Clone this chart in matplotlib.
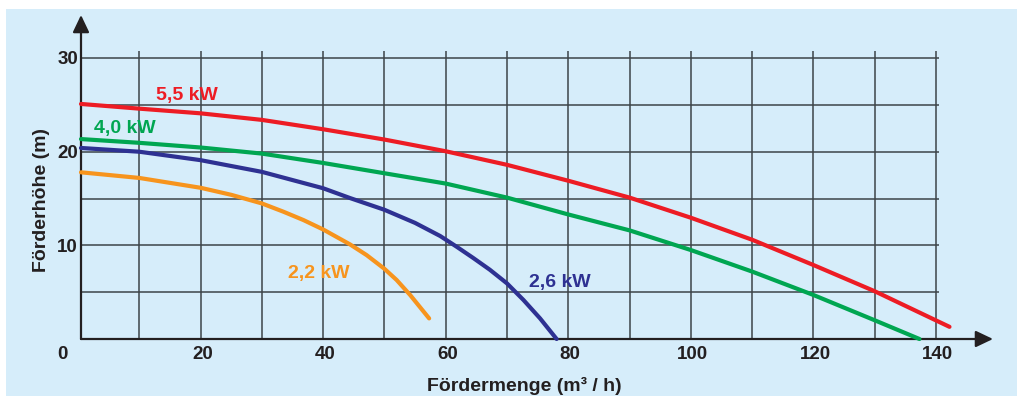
import matplotlib
matplotlib.use("Agg")
import matplotlib.pyplot as plt
from matplotlib.patches import Rectangle

# ---- data ----
red_x = [0.5, 10, 20, 30, 40, 50, 60, 70, 80, 90, 100, 110, 120, 130, 142.2]
red_y = [25.1, 24.6, 24.1, 23.4, 22.4, 21.3, 20.05, 18.6, 16.9, 15.1, 12.95, 10.6, 7.9, 5.1, 1.3]

green_x = [0.5, 10, 20, 30, 40, 50, 60, 70, 80, 90, 100, 110, 120, 130, 137.3]
green_y = [21.35, 20.95, 20.45, 19.8, 18.8, 17.7, 16.6, 15.1, 13.3, 11.6, 9.5, 7.2, 4.7, 2.0, 0.0]

blue_x = [0.5, 10, 20, 30, 40, 44.4, 50, 55, 59.1, 61.8, 64.5, 67.2, 70, 72.7, 75.4, 78.1]
blue_y = [20.4, 20.0, 19.1, 17.85, 16.1, 15.05, 13.8, 12.4, 11.0, 9.85, 8.65, 7.4, 5.94, 4.16, 2.2, 0.0]

orange_x = [0.5, 10, 20, 25, 28.1, 30, 33.5, 36.8, 40, 42.2, 44.4, 47.1, 50, 52, 54.2, 57.3]
orange_y = [17.8, 17.2, 16.15, 15.4, 14.83, 14.48, 13.6, 12.7, 11.7, 10.9, 10.1, 8.96, 7.5, 6.3, 4.7, 2.2]

series_labels = ["5,5 kW", "4,0 kW", "2,6 kW", "2,2 kW"]
x_ticks = [0, 20, 40, 60, 80, 100, 120, 140]
y_ticks = [10, 20, 30]
x_grid = [10, 20, 30, 40, 50, 60, 70, 80, 90, 100, 110, 120, 130, 140]
y_grid = [5, 10, 15, 20, 25, 30]
x_title = "Fördermenge (m³ / h)"
y_title = "Förderhöhe (m)"

# ---- styling ----
BG = "#d6edfa"
INK = "#231f20"
GRID = "#3d4448"
C_RED = "#ed1c24"
C_GREEN = "#00a651"
C_BLUE = "#2e3192"
C_ORANGE = "#f7941d"
FONT = ["Liberation Sans", "DejaVu Sans"]

W, H = 1017, 396
fig = plt.figure(figsize=(W / 100, H / 100), dpi=100)
fig.patch.set_facecolor("white")
fig.patches.append(Rectangle((6 / W, 0), 1, (H - 9) / H, transform=fig.transFigure,
                             facecolor=BG, edgecolor="none", zorder=-10))

ax = fig.add_axes([81 / W, 57 / H, (993 - 81) / W, (339 - 15) / H])
ax.set_xlim(0.5, 149.3)
ax.set_ylim(0, 34.6)
ax.axis("off")

# grid
ax.vlines(x_grid, 0, 30.8, color=GRID, lw=1.1, zorder=1)
ax.hlines(y_grid, 0.5, 140.5, color=GRID, lw=1.1, zorder=1)

# axes with arrows
arrow = dict(arrowstyle="-|>,head_length=1.05,head_width=0.5", mutation_scale=10,
             lw=1.6, color=INK, shrinkA=0, shrinkB=0)
ax.annotate("", xy=(149.3, 0), xytext=(0.5, 0), arrowprops=arrow,
            annotation_clip=False, zorder=3)
ax.annotate("", xy=(0.5, 34.6), xytext=(0.5, 0), arrowprops=arrow,
            annotation_clip=False, zorder=3)

# curves
lw = 3.0
for xs, ys, c in [(red_x, red_y, C_RED), (green_x, green_y, C_GREEN),
                  (blue_x, blue_y, C_BLUE), (orange_x, orange_y, C_ORANGE)]:
    ax.plot(xs, ys, color=c, lw=lw, solid_capstyle="round", solid_joinstyle="round",
            zorder=4, clip_on=False)

# series labels
lab_kw = dict(fontsize=14, fontweight="bold", family=FONT, ha="center", va="baseline", zorder=5)
ax.text(17.75, 25.5, series_labels[0], color=C_RED, **lab_kw)
ax.text(7.63, 21.95, series_labels[1], color=C_GREEN, **lab_kw)
ax.text(78.6, 5.52, series_labels[2], color=C_BLUE, **lab_kw)
ax.text(39.3, 6.48, series_labels[3], color=C_ORANGE, **lab_kw)

# tick labels
tk = dict(fontsize=13.5, fontweight="bold", family=FONT, color=INK, va="center")
for v in x_ticks:
    xpos = -2.5 if v == 0 else v + 0.3
    ax.text(xpos, -1.7, str(v), ha="center", clip_on=False, **tk)
for v in y_ticks:
    ax.text(0.0, v - 0.2, str(v), ha="right", clip_on=False, **tk)

# axis titles
fig.text(524 / W, 1 - 391 / H, x_title, fontsize=14, fontweight="bold", family=FONT,
         color=INK, ha="center", va="baseline")
fig.text(42 / W, 1 - 200 / H, y_title, fontsize=14, fontweight="bold", family=FONT,
         color=INK, ha="center", va="center", rotation=90)

fig.savefig("out.png", dpi=100, facecolor=fig.get_facecolor())
